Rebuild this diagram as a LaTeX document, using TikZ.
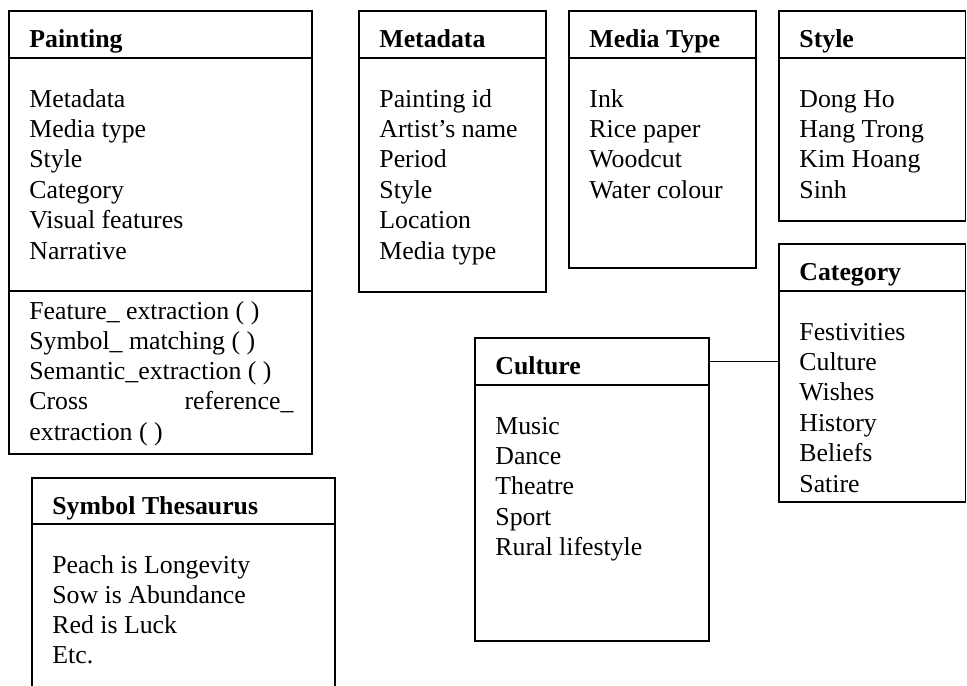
\documentclass[tikz,border=0pt]{standalone}
\usepackage{fontspec}
\setmainfont{Liberation Serif}
\usetikzlibrary{fit}

\begin{document}
\begin{tikzpicture}[x=0.5pt, y=-0.5pt,
    box/.style={draw, line width=0.9pt, inner sep=0pt},
    title/.style={anchor=base west, inner sep=0pt, font=\fontsize{12.9}{15.2}\selectfont\bfseries},
    entry/.style={anchor=base west, inner sep=0pt, font=\fontsize{12.9}{15.2}\selectfont}]

    \useasboundingbox (0,0) rectangle (967,685);
    \clip (0,0) rectangle (967,685);

    % Painting class: name, attributes and operations
    \node[box, fit={(9,11) (312,58)}] (paintHead) {};
    \node[box, fit={(9,58) (312,291)}] (paintAttr) {};
    \node[box, fit={(9,291) (312,454)}] (paintOps) {};
    \node[title] (paintName) at (29,47) {Painting};
    \foreach \txt [count=\i from 0] in {Metadata, Media type, Style, Category, Visual features, Narrative}
        \node[entry] (paint-\i) at (29,{107+30.4*\i}) {\txt};
    \foreach \txt [count=\i from 0] in {Feature\_ extraction ( ), Symbol\_ matching ( ),
        Semantic\_extraction ( ), {\hbox to 132pt{Cross\hfill reference\_}}, extraction ( )}
        \node[entry] (op-\i) at (29,{319+30.25*\i}) {\txt};

    % Metadata
    \node[box, fit={(359,11) (546,58)}] (metaHead) {};
    \node[box, fit={(359,58) (546,292)}] (metaAttr) {};
    \node[title] (metaName) at (379,47) {Metadata};
    \foreach \txt [count=\i from 0] in {Painting id, Artist’s name, Period, Style, Location, Media type}
        \node[entry] (meta-\i) at (379,{107+30.4*\i}) {\txt};

    % Media type
    \node[box, fit={(569,11) (756,58)}] (mediaHead) {};
    \node[box, fit={(569,58) (756,268)}] (mediaAttr) {};
    \node[title] (mediaName) at (589,47) {Media Type};
    \foreach \txt [count=\i from 0] in {Ink, Rice paper, Woodcut, Water colour}
        \node[entry] (media-\i) at (589,{107+30.4*\i}) {\txt};

    % Style
    \node[box, fit={(779,11) (965.5,58)}] (styleHead) {};
    \node[box, fit={(779,58) (965.5,221)}] (styleAttr) {};
    \node[title] (styleName) at (799,47) {Style};
    \foreach \txt [count=\i from 0] in {Dong Ho, Hang Trong, Kim Hoang, Sinh}
        \node[entry] (style-\i) at (799,{107+30.4*\i}) {\txt};

    % Category
    \node[box, fit={(779,244) (965.5,291)}] (catHead) {};
    \node[box, fit={(779,291) (965.5,502)}] (catAttr) {};
    \node[title] (catName) at (799,280) {Category};
    \foreach \txt [count=\i from 0] in {Festivities, Culture, Wishes, History, Beliefs, Satire}
        \node[entry] (cat-\i) at (799,{340+30.4*\i}) {\txt};

    % Culture
    \node[box, fit={(475,338) (709,385)}] (cultHead) {};
    \node[box, fit={(475,385) (709,641)}] (cultAttr) {};
    \node[title] (cultName) at (495,374) {Culture};
    \foreach \txt [count=\i from 0] in {Music, Dance, Theatre, Sport, Rural lifestyle}
        \node[entry] (cult-\i) at (495,{434+30.4*\i}) {\txt};

    % link between Culture and Category
    \draw[line width=0.9pt] (cultHead.east) -- (cultHead.east -| catAttr.west);

    % Symbol thesaurus (runs off the bottom)
    \node[box, fit={(32,478) (335,524)}] (symHead) {};
    \node[box, fit={(32,524) (335,700)}] (symAttr) {};
    \node[title] (symName) at (52,514) {Symbol Thesaurus};
    \foreach \txt [count=\i from 0] in {Peach is Longevity, Sow is Abundance, Red is Luck, Etc.}
        \node[entry] (sym-\i) at (52,{573+30.2*\i}) {\txt};

\end{tikzpicture}
\end{document}
